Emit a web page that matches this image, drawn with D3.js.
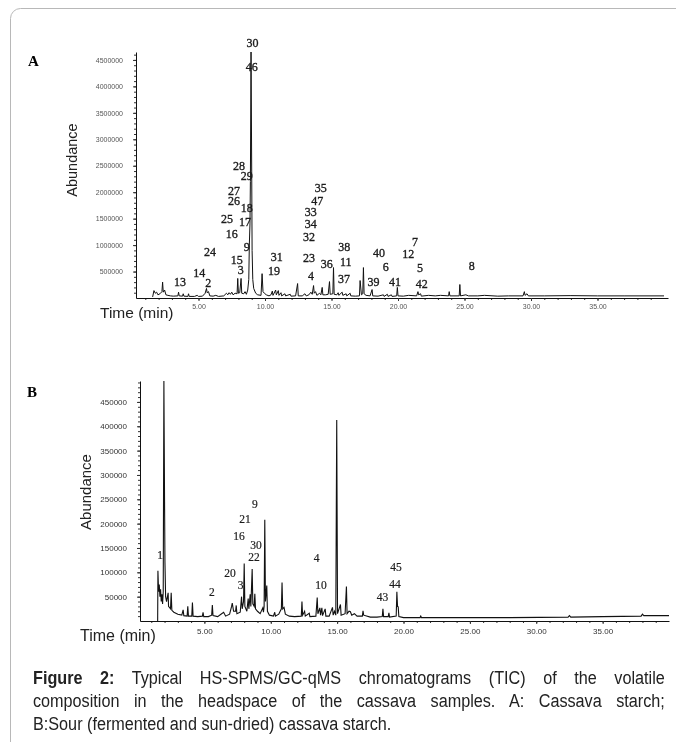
<!DOCTYPE html>
<html>
<head>
<meta charset="utf-8">
<script src="https://cdn.jsdelivr.net/npm/d3@7"></script>
<style>
  body { margin: 0; background: #fff; }
  #wrap { position: relative; width: 676px; height: 742px; overflow: hidden; background: #fff; }
  #chart { will-change: transform; }
  .caption {
    position: absolute; left: 33px; top: 667px; width: 702px;
    transform: scaleX(0.9); transform-origin: 0 0;
    font-family: "Liberation Sans", Arial, sans-serif; font-size: 18px;
    line-height: 23px; color: #222;
  }
  .caption .j { text-align: justify; text-align-last: justify; }
</style>
</head>
<body>
<div id="wrap">
  <svg id="chart" width="676" height="742"></svg>
  <div class="caption">
    <div class="j"><b>Figure 2:</b> Typical HS-SPMS/GC-qMS chromatograms (TIC) of the volatile</div>
    <div class="j">composition in the headspace of the cassava samples. A: Cassava starch;</div>
    <div>B:Sour (fermented and sun-dried) cassava starch.</div>
  </div>
</div>
<script>
// ---- data: panel A (cassava starch) ----
const timeTicks = [5, 10, 15, 20, 25, 30, 35];
const yTicksA = [500000, 1000000, 1500000, 2000000, 2500000, 3000000, 3500000, 4000000, 4500000];
const traceA = [
  [1.55, 20000], [1.65, 140000], [1.75, 90000], [1.85, 110000], [1.95, 60000], [2.1, 80000],
  [2.25, 120000], [2.3, 300000], [2.35, 110000], [2.45, 150000], [2.55, 60000], [2.7, 50000],
  [2.9, 40000], [3.1, 35000], [3.45, 40000], [3.5, 110000], [3.55, 40000], [3.8, 35000],
  [3.85, 80000], [3.9, 35000], [4.2, 30000], [4.25, 80000], [4.3, 30000], [4.7, 30000],
  [4.9, 50000], [5.0, 30000], [5.3, 35000], [5.5, 90000], [5.6, 180000], [5.65, 100000],
  [5.75, 120000], [5.85, 40000], [6.1, 35000], [6.3, 50000], [6.5, 30000], [6.9, 40000],
  [7.1, 90000], [7.2, 60000], [7.3, 100000], [7.4, 70000], [7.5, 110000], [7.6, 60000],
  [7.75, 90000], [7.9, 80000], [7.95, 370000], [8.0, 90000], [8.1, 100000], [8.2, 370000],
  [8.25, 90000], [8.4, 80000], [8.5, 120000], [8.6, 70000], [8.7, 150000], [8.78, 350000],
  [8.82, 1000000], [8.87, 1400000], [8.9, 2200000], [8.95, 4650000], [9.0, 2400000],
  [9.03, 900000], [9.08, 350000], [9.15, 180000], [9.3, 90000], [9.45, 60000], [9.7, 50000],
  [9.78, 460000], [9.85, 120000], [9.95, 90000], [10.1, 60000], [10.3, 40000], [10.45, 60000],
  [10.55, 130000], [10.6, 50000], [10.8, 150000], [10.85, 60000], [11.0, 140000], [11.05, 50000],
  [11.2, 100000], [11.25, 40000], [11.5, 80000], [11.55, 40000], [11.9, 70000], [11.95, 35000],
  [12.3, 40000], [12.45, 273000], [12.5, 40000], [12.8, 40000], [13.0, 80000], [13.1, 40000],
  [13.3, 60000], [13.45, 110000], [13.55, 70000], [13.65, 235000], [13.7, 90000], [13.8, 120000],
  [13.9, 50000], [14.1, 90000], [14.2, 60000], [14.3, 200000], [14.35, 60000], [14.55, 60000],
  [14.75, 70000], [14.85, 310000], [14.9, 70000], [15.1, 80000], [15.15, 575000], [15.2, 70000],
  [15.4, 60000], [15.5, 100000], [15.55, 50000], [15.8, 110000], [15.85, 50000], [16.1, 80000],
  [16.15, 40000], [16.4, 90000], [16.45, 40000], [16.8, 35000], [17.1, 40000], [17.15, 330000],
  [17.25, 60000], [17.35, 80000], [17.4, 575000], [17.45, 80000], [17.6, 50000], [17.9, 40000],
  [18.05, 160000], [18.1, 40000], [18.5, 35000], [18.9, 60000], [18.95, 30000], [19.2, 70000],
  [19.25, 30000], [19.5, 60000], [19.55, 30000], [19.9, 40000], [19.95, 200000], [20.0, 40000],
  [20.4, 35000], [20.8, 50000], [21.4, 40000], [21.5, 120000], [21.55, 60000], [21.7, 80000],
  [21.75, 35000], [22.3, 50000], [22.8, 40000], [23.2, 50000], [23.8, 40000], [23.85, 120000],
  [23.9, 40000], [24.6, 40000], [24.65, 255000], [24.7, 40000], [25.1, 60000], [25.3, 40000],
  [26.0, 40000], [26.5, 50000], [27.5, 35000], [28.3, 40000], [29.4, 40000], [29.5, 120000],
  [29.55, 50000], [29.7, 80000], [29.8, 40000], [31.0, 40000], [33.0, 45000], [35.0, 40000],
  [37.0, 40000], [40.0, 40000]
];
const labelsA = ['30', '46', '28', '29', '27', '26', '18', '25', '17', '16', '9', '24', '15', '3',
  '14', '2', '13', '31', '19', '35', '47', '33', '34', '32', '23', '36', '4', '38', '11', '37',
  '40', '6', '39', '41', '7', '12', '5', '42', '8'];
const labelTimesA = [9.05, 9.0, 8.05, 8.63, 7.67, 7.67, 8.63, 7.14, 8.5, 7.5, 8.63, 5.86, 7.87, 8.17,
  5.06, 5.74, 3.61, 10.88, 10.68, 14.19, 13.93, 13.44, 13.44, 13.31, 13.31, 14.64, 13.46, 15.96, 16.07, 15.94,
  18.57, 19.08, 18.15, 19.77, 21.28, 20.77, 21.65, 21.78, 25.54];
const labelAbundA = [4821000, 4368000, 2500000, 2311000, 2028000, 1840000, 1708000, 1500000, 1443000,
  1217000, 972000, 877000, 726000, 538000, 481000, 292000, 311000, 783000, 519000, 2085000, 1840000,
  1632000, 1406000, 1160000, 764000, 651000, 425000, 972000, 689000, 368000, 858000, 594000, 311000,
  311000, 1066000, 840000, 575000, 274000, 613000];

// ---- data: panel B (sour cassava starch) ----
const yTicksB = [50000, 100000, 150000, 200000, 250000, 300000, 350000, 400000, 450000];
const traceB = [
  [1.48, 0], [1.5, 103000], [1.55, 60000], [1.6, 75000], [1.65, 50000], [1.7, 65000], [1.75, 40000],
  [1.8, 55000], [1.85, 35000], [1.9, 60000], [1.95, 493000], [2.0, 245000], [2.03, 120000],
  [2.08, 50000], [2.15, 40000], [2.27, 58000], [2.3, 30000], [2.45, 25000], [2.5, 58000],
  [2.55, 22000], [2.7, 18000], [3.0, 14000], [3.3, 12000], [3.4, 23000], [3.45, 11000],
  [3.7, 10000], [3.75, 30000], [3.8, 10000], [4.05, 10000], [4.1, 38000], [4.15, 10000],
  [4.5, 9000], [4.85, 10000], [4.9, 18000], [4.95, 9000], [5.3, 9000], [5.55, 12000],
  [5.6, 33000], [5.65, 11000], [6.0, 9000], [6.3, 15000], [6.45, 18000], [6.6, 10000],
  [6.9, 14000], [7.05, 30000], [7.1, 37000], [7.2, 20000], [7.35, 20000], [7.4, 32000],
  [7.45, 15000], [7.7, 18000], [7.8, 50000], [7.85, 25000], [7.95, 40000], [8.0, 118000],
  [8.05, 30000], [8.2, 20000], [8.3, 46000], [8.35, 25000], [8.45, 55000], [8.5, 30000],
  [8.6, 107000], [8.65, 35000], [8.75, 30000], [8.8, 56000], [8.85, 25000], [9.0, 20000],
  [9.2, 15000], [9.4, 27000], [9.45, 18000], [9.5, 30000], [9.55, 208000], [9.6, 40000],
  [9.7, 73000], [9.75, 20000], [9.9, 12000], [10.2, 10000], [10.3, 18000], [10.35, 10000],
  [10.6, 14000], [10.8, 25000], [10.85, 79000], [10.9, 25000], [11.0, 28000], [11.1, 14000],
  [11.4, 10000], [11.8, 9000], [12.3, 10000], [12.35, 40000], [12.4, 12000], [12.55, 20000],
  [12.6, 10000], [12.9, 16000], [12.95, 9000], [13.4, 10000], [13.5, 48000], [13.55, 15000],
  [13.7, 27000], [13.75, 12000], [13.85, 27000], [13.9, 11000], [14.1, 25000], [14.15, 10000],
  [14.4, 10000], [14.65, 28000], [14.7, 12000], [14.8, 20000], [14.9, 12000], [14.97, 413000],
  [15.03, 15000], [15.25, 34000], [15.3, 12000], [15.6, 15000], [15.7, 71000], [15.75, 15000],
  [15.9, 20000], [16.0, 19000], [16.1, 12000], [16.3, 15000], [16.5, 10000], [16.9, 10000],
  [16.95, 21000], [17.0, 12000], [17.5, 8000], [18.0, 8000], [18.4, 9000], [18.45, 25000],
  [18.5, 9000], [18.85, 9000], [18.9, 17000], [18.95, 8000], [19.45, 10000], [19.5, 60000],
  [19.55, 30000], [19.6, 29000], [19.65, 9000], [20.0, 7000], [21.25, 7000], [21.3, 10000],
  [21.35, 7000], [23.0, 7000], [25.0, 7000], [28.0, 7000], [32.4, 8000], [32.5, 11000],
  [32.6, 8000], [35.0, 9000], [37.9, 10000], [38.0, 14000], [38.1, 11000], [40.0, 11000]
];
const labelsB = ['1', '2', '20', '3', '16', '21', '9', '30', '22', '4', '10', '45', '44', '43'];
const labelTimesB = [1.66, 5.57, 6.93, 7.73, 7.61, 8.06, 8.81, 8.89, 8.73, 13.45, 13.78, 19.43, 19.35, 18.42];
const labelAbundB = [134800, 59700, 98700, 74700, 173700, 210000, 240800, 155300, 130600, 129400,
  74700, 110100, 76700, 48600];

const svg = d3.select('#chart');

// page frame (cropped at right and bottom)
svg.append('rect')
  .attr('x', 10.5).attr('y', 8.5)
  .attr('width', 720).attr('height', 800)
  .attr('rx', 10)
  .style('fill', '#fff')
  .style('stroke', '#b8b8b8');

function drawPanel(opts) {
  const g = svg.append('g');
  const x = d3.scaleLinear().domain(opts.xDomain).range(opts.xRange);
  const y = d3.scaleLinear().domain(opts.yDomain).range(opts.yRange);

  // minor ticks
  g.append('g')
    .attr('transform', `translate(${opts.xRange[0]},0)`)
    .call(d3.axisLeft(y).tickValues(d3.range(opts.yMinor, opts.yDomain[1], opts.yMinor))
      .tickSize(2).tickFormat(''))
    .call((a) => a.select('.domain').remove());
  g.append('g')
    .attr('transform', `translate(0,${opts.yRange[0]})`)
    .call(d3.axisBottom(x).tickValues(d3.range(1, 40, 1)).tickSize(2).tickFormat(''))
    .call((a) => a.select('.domain').remove());

  const yAxis = g.append('g')
    .attr('class', 'axis-y')
    .attr('transform', `translate(${opts.xRange[0]},0)`)
    .call(d3.axisLeft(y).tickValues(opts.yTicks).tickSize(3).tickSizeOuter(0)
      .tickPadding(opts.yPad).tickFormat(d3.format('d')));
  const xAxis = g.append('g')
    .attr('class', 'axis-x')
    .attr('transform', `translate(0,${opts.yRange[0]})`)
    .call(d3.axisBottom(x).tickValues(timeTicks).tickSize(3).tickSizeOuter(0)
      .tickPadding(opts.xPad).tickFormat(d3.format('.2f')));

  g.selectAll('.tick line').style('stroke', '#333');
  g.selectAll('.domain').style('stroke', '#111');
  yAxis.selectAll('text')
    .style('font-family', '"Liberation Sans", Arial, sans-serif')
    .style('font-size', opts.tickFont + 'px')
    .style('fill', opts.tickColor);
  xAxis.selectAll('text')
    .style('font-family', '"Liberation Sans", Arial, sans-serif')
    .style('font-size', opts.tickFont + 'px')
    .style('fill', opts.tickColor);

  const line = d3.line().x((d) => x(d[0])).y((d) => y(d[1]));
  g.append('path')
    .datum(opts.trace)
    .attr('d', line)
    .style('fill', 'none')
    .style('stroke', '#111')
    .style('stroke-width', opts.lineWidth)
    .style('stroke-linejoin', 'miter');

  g.selectAll('.peak')
    .data(opts.labels)
    .enter()
    .append('text')
    .attr('class', 'peak')
    .attr('x', (d, i) => x(opts.labelTimes[i]))
    .attr('y', (d, i) => y(opts.labelAbund[i]))
    .attr('dy', '0.35em')
    .attr('text-anchor', 'middle')
    .style('font-family', '"Liberation Serif", "Times New Roman", serif')
    .style('font-size', opts.peakFont + 'px')
    .style('fill', '#1a1a1a')
    .style('stroke', '#1a1a1a')
    .style('stroke-width', opts.peakStroke)
    .style('opacity', 0.99)
    .text((d) => d);

  g.append('text')
    .attr('x', opts.letterPos[0]).attr('y', opts.letterPos[1])
    .style('font-family', '"Liberation Serif", "Times New Roman", serif')
    .style('font-weight', 'bold')
    .style('font-size', '15px')
    .text(opts.letter);

  g.append('text')
    .attr('transform', `translate(${opts.abundPos[0]},${opts.abundPos[1]}) rotate(-90)`)
    .attr('text-anchor', 'middle')
    .attr('dy', '0.35em')
    .style('font-family', '"Liberation Sans", Arial, sans-serif')
    .style('font-size', opts.titleFont + 'px')
    .style('fill', '#222')
    .text('Abundance');

  g.append('text')
    .attr('x', opts.timePos[0]).attr('y', opts.timePos[1])
    .style('font-family', '"Liberation Sans", Arial, sans-serif')
    .style('font-size', (opts.titleFont + 1) + 'px')
    .style('fill', '#222')
    .text('Time (min)');
}

drawPanel({
  letter: 'A', letterPos: [28, 66],
  xDomain: [0.3, 40.3], xRange: [136, 668],
  yDomain: [0, 4650000], yRange: [298, 52],
  yTicks: yTicksA, yMinor: 100000, yPad: 10, xPad: 3,
  tickFont: 7, tickColor: '#555',
  trace: traceA, lineWidth: 1,
  labels: labelsA, labelTimes: labelTimesA, labelAbund: labelAbundA, peakFont: 12, peakStroke: 0.35,
  abundPos: [72, 160], timePos: [100, 318], titleFont: 14.5
});

drawPanel({
  letter: 'B', letterPos: [27, 397],
  xDomain: [0.15, 40], xRange: [140, 669],
  yDomain: [0, 493000], yRange: [621, 381],
  yTicks: yTicksB, yMinor: 10000, yPad: 10, xPad: 4,
  tickFont: 8, tickColor: '#333',
  trace: traceB, lineWidth: 1.1,
  labels: labelsB, labelTimes: labelTimesB, labelAbund: labelAbundB, peakFont: 11.5, peakStroke: 0.2,
  abundPos: [86, 492], timePos: [80, 641], titleFont: 15
});
</script>
</body>
</html>
